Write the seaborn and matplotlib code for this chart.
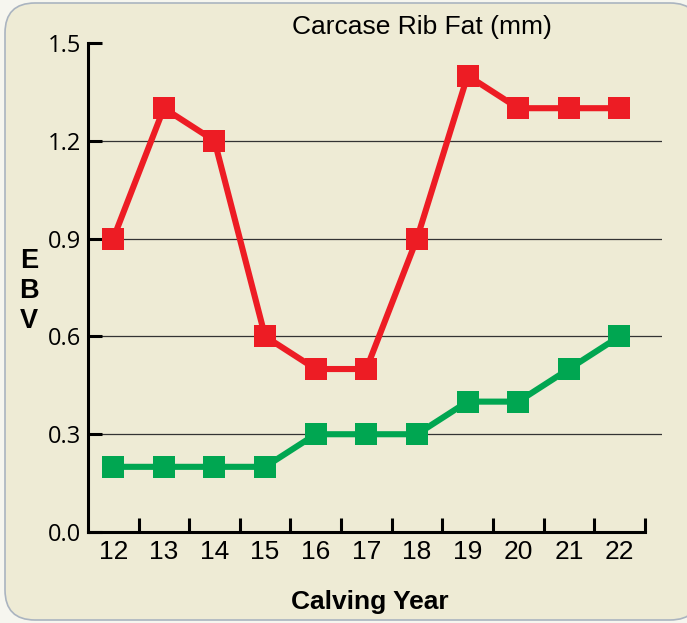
import matplotlib.pyplot as plt
import pandas as pd
import seaborn as sns
from matplotlib.patches import FancyBboxPatch

# chart data
years = [12, 13, 14, 15, 16, 17, 18, 19, 20, 21, 22]
red_ebv = [0.9, 1.3, 1.2, 0.6, 0.5, 0.5, 0.9, 1.4, 1.3, 1.3, 1.3]
green_ebv = [0.2, 0.2, 0.2, 0.2, 0.3, 0.3, 0.3, 0.4, 0.4, 0.5, 0.6]
y_ticks = [0.0, 0.3, 0.6, 0.9, 1.2, 1.5]

df = pd.DataFrame({"year": years, "red": red_ebv, "green": green_ebv})
df = df.melt(id_vars="year", var_name="series", value_name="ebv")

sns.set_style("white")
plt.rcParams["font.family"] = ["Liberation Sans", "DejaVu Sans"]
plt.rcParams["text.color"] = "black"
plt.rcParams["xtick.color"] = "black"
plt.rcParams["ytick.color"] = "black"

fig = plt.figure(figsize=(6.87, 6.23), dpi=100)
fig.patch.set_facecolor("#f6f6ef")

# rounded background panel
panel = FancyBboxPatch((0.05, 0.03), 6.95, 6.17,
                       boxstyle="round,pad=0,rounding_size=0.3",
                       transform=fig.dpi_scale_trans,
                       facecolor="#eeebd5", edgecolor="#aab4c0", lw=1.2,
                       zorder=-10)
fig.patches.append(panel)

ax = fig.add_axes([0.128, 0.146, 0.8356, 0.785])
ax.set_facecolor("none")

sns.lineplot(data=df, x="year", y="ebv", hue="series",
             palette={"red": "#ed1c24", "green": "#00a651"},
             marker="s", markersize=16, markeredgewidth=0,
             linewidth=4.4, legend=False, ax=ax, zorder=3)

ax.set_xlim(11.5, 22.84)
ax.set_ylim(0, 1.5)
ax.set_xlabel("")
ax.set_ylabel("")

# spines
for s in ["top", "right"]:
    ax.spines[s].set_visible(False)
for s in ["left", "bottom"]:
    ax.spines[s].set_linewidth(2.2)
    ax.spines[s].set_color("black")
    ax.spines[s].set_zorder(4)
ax.spines["bottom"].set_bounds(11.5, 22.5)

# ticks
ax.set_xticks(years)
ax.set_xticks([y + 0.5 for y in years], minor=True)
ax.tick_params(axis="x", which="major", bottom=True, length=0, pad=6,
               labelsize=19)
ax.tick_params(axis="x", which="minor", bottom=True, direction="in",
               length=10, width=2.2, color="black")
ax.set_yticks(y_ticks)
ax.set_yticklabels([f"{v:.1f}" for v in y_ticks], family="Open Sans")
ax.tick_params(axis="y", left=True, direction="in", length=10, width=2.2,
               color="black", pad=5, labelsize=17)

ax.yaxis.grid(True, color="#333333", lw=0.9)
ax.get_ygridlines()[-1].set_visible(False)
ax.get_ygridlines()[0].set_visible(False)

fig.text(0.614, 0.957, "Carcase Rib Fat (mm)", ha="center", va="center",
         fontsize=19)
fig.text(0.539, 0.034, "Calving Year", ha="center", va="center",
         fontsize=19, fontweight="bold")
fig.text(0.042, 0.533, "E\nB\nV", ha="center", va="center",
         fontsize=19.5, fontweight="bold", linespacing=1.2)

fig.savefig("out.png", dpi=100)
